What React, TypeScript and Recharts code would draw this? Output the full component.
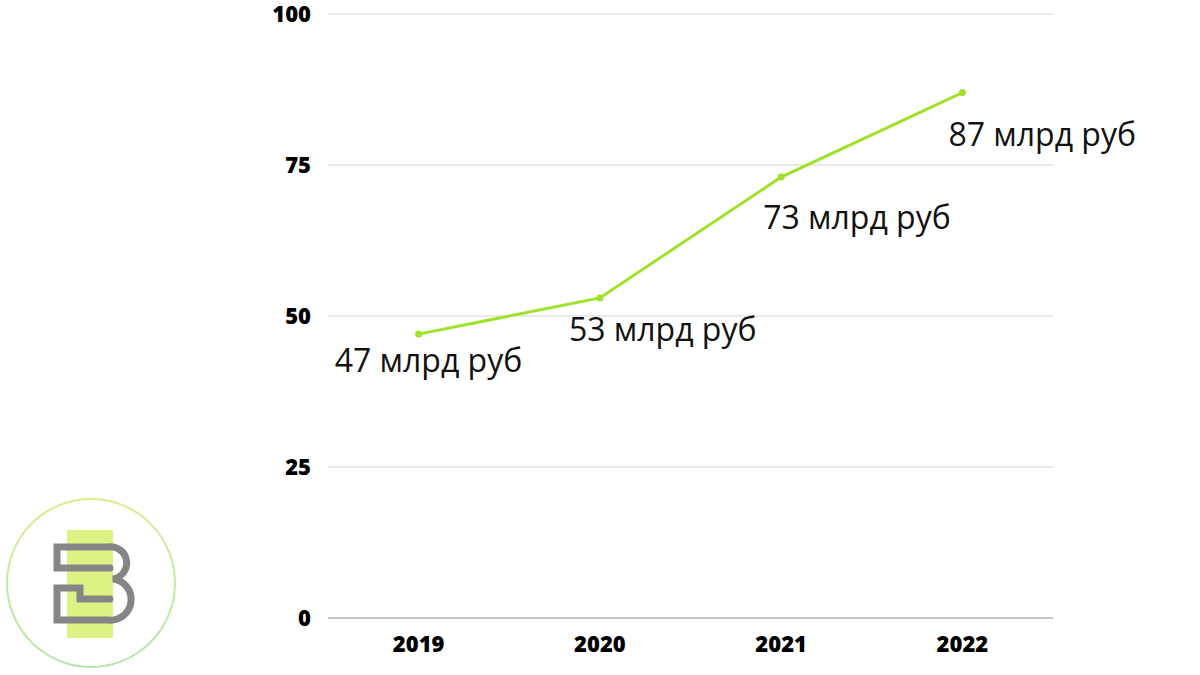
import { LineChart, Line, XAxis, YAxis, CartesianGrid, LabelList } from 'recharts';

const years = ['2019', '2020', '2021', '2022'];
const revenue = [47, 53, 73, 87];
const valueLabels = ['47 млрд руб', '53 млрд руб', '73 млрд руб', '87 млрд руб'];
const yTicks = [0, 25, 50, 75, 100];

// where each value label sits relative to its point
const labelOffsets = [
  { dx: -84, dy: 38 },
  { dx: -31, dy: 43 },
  { dx: -18, dy: 52 },
  { dx: -14, dy: 53 },
];

const chartData = years.map((year, i) => ({
  year,
  value: revenue[i],
  label: valueLabels[i],
}));

const ValueLabel = (props: any) => {
  const { x, y, index, value } = props;
  const off = labelOffsets[index] || { dx: 0, dy: 0 };
  return (
    <text
      x={x + off.dx}
      y={y + off.dy}
      fill="#111"
      fontSize={32}
      fontFamily="'Open Sans', sans-serif"
      textAnchor="start"
    >
      {value}
    </text>
  );
};

const Logo = () => (
  <svg
    width={190}
    height={185}
    viewBox="0 490 190 185"
    style={{ position: 'absolute', left: 0, top: 490 }}
  >
    <defs>
      <linearGradient id="ring" x1="0" y1="0" x2="0" y2="1">
        <stop offset="0%" stopColor="#d6ee8c" />
        <stop offset="100%" stopColor="#b5e3b0" />
      </linearGradient>
    </defs>
    <circle cx={91} cy={583} r={84} fill="none" stroke="url(#ring)" strokeWidth={2} />
    <rect x={67} y={530} width={46} height={108} fill="#dcf283" />
    <path
      d="M 110 568 H 57 V 547 H 108 A 16 16 0 0 1 113 579 A 20.5 20.5 0 0 1 108 620 H 57 V 588 H 80 V 599 H 110"
      fill="none"
      stroke="#858585"
      strokeWidth={7}
      strokeLinecap="round"
      strokeLinejoin="miter"
    />
  </svg>
);

export default function App() {
  return (
    <div
      style={{
        position: 'absolute',
        left: 0,
        top: 0,
        width: 1200,
        height: 675,
        background: '#fff',
        fontFamily: "'Open Sans', sans-serif",
      }}
    >
      <LineChart
        width={1200}
        height={675}
        data={chartData}
        margin={{ top: 14, right: 147, bottom: 27, left: 268 }}
      >
        <CartesianGrid vertical={false} stroke="#e3e3e3" strokeWidth={1.5} />
        <XAxis
          dataKey="year"
          scale="band"
          height={30}
          tickLine={false}
          axisLine={{ stroke: '#c6c6c6', strokeWidth: 2 }}
          tickMargin={12}
          tick={{ fill: '#000', fontSize: 22, fontWeight: 800, fontFamily: "'Open Sans', sans-serif" }}
        />
        <YAxis
          width={60}
          domain={[0, 100]}
          ticks={yTicks}
          axisLine={false}
          tickLine={false}
          tickMargin={11}
          tick={{ fill: '#000', fontSize: 22, fontWeight: 800, fontFamily: "'Open Sans', sans-serif" }}
        />
        <Line
          type="linear"
          dataKey="value"
          stroke="#9fe22c"
          strokeWidth={3}
          dot={{ r: 3.5, fill: '#9fe22c', stroke: '#9fe22c', strokeWidth: 0 }}
          activeDot={false}
          isAnimationActive={false}
        >
          <LabelList dataKey="label" content={<ValueLabel />} />
        </Line>
      </LineChart>
      <Logo />
    </div>
  );
}
